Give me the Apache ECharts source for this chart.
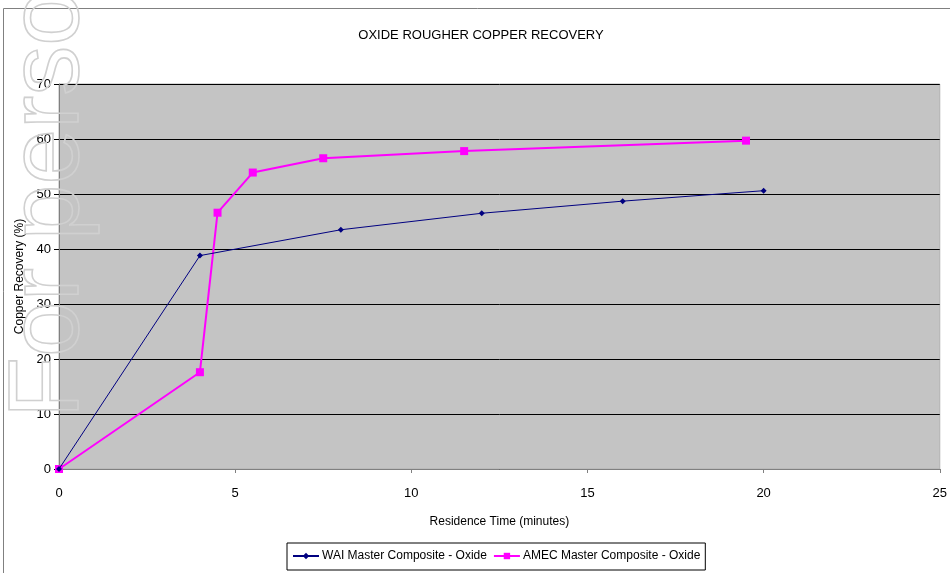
<!DOCTYPE html>
<html>
<head>
<meta charset="utf-8">
<script src="https://cdn.jsdelivr.net/npm/echarts@6/dist/echarts.min.js"></script>
<style>
  html, body { margin: 0; padding: 0; background: #ffffff; }
  #chart { width: 950px; height: 573px; }
</style>
</head>
<body>
<div id="chart"></div>
<script>
// Residence time (minutes) and copper recovery (%) for each composite
const waiTime = [0, 4, 8, 12, 16, 20];
const waiRecovery = [0, 38.8, 43.5, 46.5, 48.7, 50.6];
const amecTime = [0, 4, 4.5, 5.5, 7.5, 11.5, 19.5];
const amecRecovery = [0, 17.6, 46.6, 53.9, 56.5, 57.8, 59.7];

const xTicks = [0, 5, 10, 15, 20, 25];
const yTicks = [0, 10, 20, 30, 40, 50, 60, 70];

const seriesNames = ['WAI Master Composite - Oxide', 'AMEC Master Composite - Oxide'];
const chartTitle = 'OXIDE ROUGHER COPPER RECOVERY';
const xTitle = 'Residence Time (minutes)';
const yTitle = 'Copper Recovery (%)';
const watermark = 'For personal use only';

const pair = (xs, ys) => xs.map((x, i) => [x, ys[i]]);
const font = '"Liberation Sans", Arial, sans-serif';

const chart = echarts.init(document.getElementById('chart'), null, { renderer: 'canvas' });

chart.setOption({
  backgroundColor: '#ffffff',
  animation: false,
  grid: { left: 59, right: 10, top: 84, bottom: 104, show: true, backgroundColor: '#c4c4c4', borderColor: '#b0b0b0', borderWidth: 1 },
  xAxis: {
    type: 'value',
    min: xTicks[0], max: xTicks[xTicks.length - 1], interval: 5,
    name: xTitle, nameLocation: 'middle', nameGap: 47,
    nameTextStyle: { fontFamily: font, fontSize: 12, color: '#000' },
    axisLine: { show: true, lineStyle: { color: '#808080', width: 1 } },
    axisTick: { show: true, length: 4, lineStyle: { color: '#808080' } },
    axisLabel: { fontFamily: font, fontSize: 13, color: '#000', margin: 18 },
    splitLine: { show: false }
  },
  yAxis: {
    type: 'value',
    min: yTicks[0], max: yTicks[yTicks.length - 1], interval: 10,
    name: yTitle, nameLocation: 'middle', nameGap: 29,
    nameTextStyle: { fontFamily: font, fontSize: 12, color: '#000' },
    axisLine: { show: true, lineStyle: { color: '#808080', width: 1 } },
    axisTick: { show: true, length: 5, lineStyle: { color: '#000' } },
    axisLabel: { fontFamily: font, fontSize: 13, color: '#000', margin: 8 },
    splitLine: { show: true, lineStyle: { color: '#000', width: 1 } }
  },
  legend: {
    left: 287, top: 543,
    itemWidth: 26, itemHeight: 8, itemGap: 6,
    padding: [7, 5, 8, 5],
    borderColor: '#000', borderWidth: 1,
    textStyle: { fontFamily: font, fontSize: 12, color: '#000', padding: [0, 0, 0, -2] },
    data: seriesNames
  },
  series: [
    {
      name: seriesNames[0], type: 'line',
      data: pair(waiTime, waiRecovery),
      symbol: 'diamond', symbolSize: 6,
      lineStyle: { color: '#000080', width: 1 },
      itemStyle: { color: '#000080' },
      z: 3
    },
    {
      name: seriesNames[1], type: 'line',
      data: pair(amecTime, amecRecovery),
      symbol: 'rect', symbolSize: 8,
      lineStyle: { color: '#ff00ff', width: 2 },
      itemStyle: { color: '#ff00ff' },
      z: 2
    }
  ],
  graphic: [
    {
      type: 'rect', z: -1, silent: true,
      shape: { x: 3.5, y: 8.5, width: 960, height: 580 },
      style: { fill: null, stroke: '#808080', lineWidth: 1 }
    },
    {
      type: 'text', z: 10,
      x: 481, y: 35,
      style: { text: chartTitle, fontFamily: font, fontSize: 13, fill: '#000', align: 'center', verticalAlign: 'middle' }
    },
    {
      type: 'text', z: 100, silent: true,
      x: 0, y: 418, rotation: Math.PI / 2,
      style: {
        text: watermark, fontFamily: font, fontSize: 100,
        fill: null, stroke: '#d0d0d0', lineWidth: 1.6,
        align: 'left', verticalAlign: 'top'
      }
    }
  ]
});
</script>
</body>
</html>
